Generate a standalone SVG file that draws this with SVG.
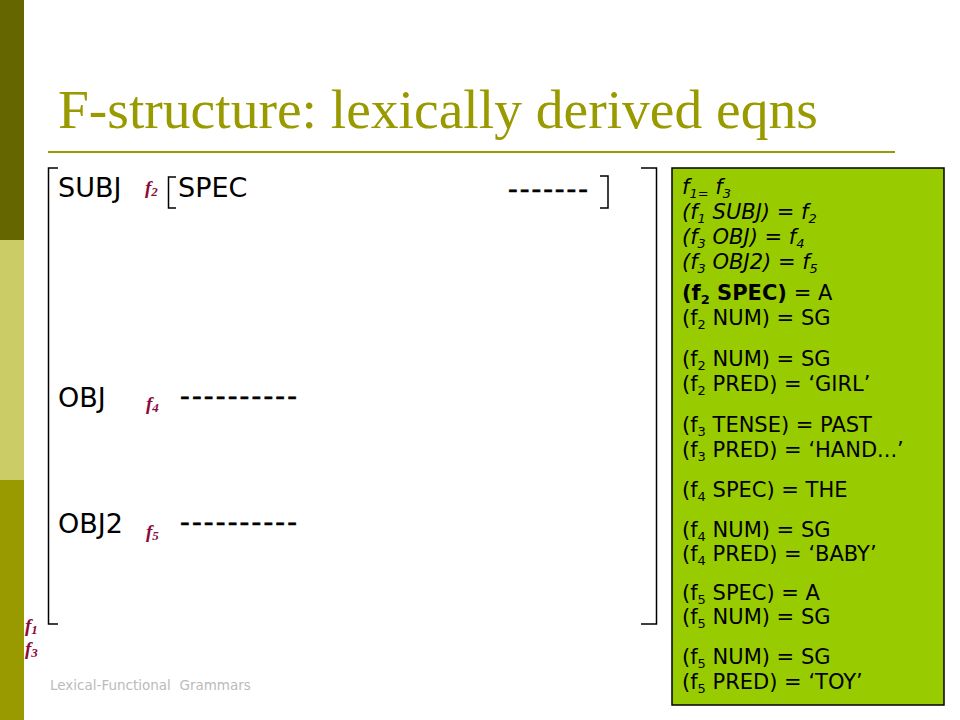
<svg xmlns="http://www.w3.org/2000/svg" width="960" height="720" viewBox="0 0 960 720">
<style>
.title{font-family:"Liberation Serif","Times New Roman",serif;font-size:55.5px;fill:#999900}
.main{font-family:"DejaVu Sans",Verdana,sans-serif;font-size:27px;fill:#000}
.dash{stroke:#000;stroke-width:0.7}
.eq{font-family:"DejaVu Sans",Verdana,sans-serif;font-size:21px;fill:#000}
.it{font-style:italic}
.b{font-weight:bold}
.s{font-size:13px}
.fl{font-family:"Liberation Serif","Times New Roman",serif;font-style:italic;font-weight:bold;font-size:19px;fill:#8B0A3D}
.fs{font-size:13px}
.br{fill:none;stroke:#000;stroke-width:1.5}
.foot{font-family:"DejaVu Sans",Verdana,sans-serif;font-size:13.5px;fill:#BBBBBB;white-space:pre}
</style>
<rect width="960" height="720" fill="#fff"/>
<g id="sidebar">
<rect x="0" y="0" width="24" height="240" fill="#666600"/>
<rect x="0" y="240" width="24" height="240" fill="#CCCC66"/>
<rect x="0" y="480" width="24" height="240" fill="#999900"/>
</g>
<g id="title">
<text class="title" x="58" y="128">F-structure: lexically derived eqns</text>
<line x1="48" y1="152" x2="895" y2="152" stroke="#999900" stroke-width="2"/>
</g>
<g id="fstructure">
<path class="br" d="M58,168 H48.5 V624 H58"/>
<path class="br" d="M641,168 H656.5 V624 H641"/>
<g id="subj">
<text class="main" x="58" y="197">SUBJ</text>
<text class="fl" x="145" y="194">f<tspan class="fs" dy="2">2</tspan></text>
<path class="br" d="M176,177 H168.5 V208 H176"/>
<text class="main" x="178" y="197">SPEC</text>
<text class="main dash" x="508" y="198" textLength="80" lengthAdjust="spacing">-------</text>
<path class="br" d="M600,176 H608 V208 H600"/>
</g>
<g id="obj">
<text class="main" x="58" y="407">OBJ</text>
<text class="fl" x="146" y="410">f<tspan class="fs" dy="2">4</tspan></text>
<text class="main dash" x="180" y="405" textLength="117" lengthAdjust="spacing">----------</text>
</g>
<g id="obj2">
<text class="main" x="58" y="533">OBJ2</text>
<text class="fl" x="146" y="538">f<tspan class="fs" dy="2">5</tspan></text>
<text class="main dash" x="180" y="531" textLength="117" lengthAdjust="spacing">----------</text>
</g>
<g id="f1f3">
<text class="fl" x="25" y="632">f<tspan class="fs" dy="2">1</tspan></text>
<text class="fl" x="25" y="655">f<tspan class="fs" dy="2">3</tspan></text>
</g>
</g>
<g id="equations">
<rect x="672" y="168" width="272" height="537" fill="#99CC00" stroke="#000" stroke-width="1.5"/>
<text class="eq it" x="682" y="194">f<tspan class="s" dy="4">1=</tspan><tspan dy="-4"> f</tspan><tspan class="s" dy="4">3</tspan></text>
<text class="eq it" x="682" y="219">(f<tspan class="s" dy="4">1</tspan><tspan dy="-4"> SUBJ) = f</tspan><tspan class="s" dy="4">2</tspan></text>
<text class="eq it" x="682" y="244">(f<tspan class="s" dy="4">3</tspan><tspan dy="-4"> OBJ) = f</tspan><tspan class="s" dy="4">4</tspan></text>
<text class="eq it" x="682" y="269">(f<tspan class="s" dy="4">3</tspan><tspan dy="-4"> OBJ2) = f</tspan><tspan class="s" dy="4">5</tspan></text>
<text class="eq" x="682" y="300"><tspan class="b">(f</tspan><tspan class="b s" dy="4">2</tspan><tspan class="b" dy="-4"> SPEC)</tspan> = A</text>
<text class="eq" x="682" y="325">(f<tspan class="s" dy="4">2</tspan><tspan dy="-4"> NUM) = SG</tspan></text>
<text class="eq" x="682" y="366">(f<tspan class="s" dy="4">2</tspan><tspan dy="-4"> NUM) = SG</tspan></text>
<text class="eq" x="682" y="391">(f<tspan class="s" dy="4">2</tspan><tspan dy="-4"> PRED) = ‘GIRL’</tspan></text>
<text class="eq" x="682" y="432">(f<tspan class="s" dy="4">3</tspan><tspan dy="-4"> TENSE) = PAST</tspan></text>
<text class="eq" x="682" y="457">(f<tspan class="s" dy="4">3</tspan><tspan dy="-4"> PRED) = ‘HAND...’</tspan></text>
<text class="eq" x="682" y="497">(f<tspan class="s" dy="4">4</tspan><tspan dy="-4"> SPEC) = THE</tspan></text>
<text class="eq" x="682" y="537">(f<tspan class="s" dy="4">4</tspan><tspan dy="-4"> NUM) = SG</tspan></text>
<text class="eq" x="682" y="561">(f<tspan class="s" dy="4">4</tspan><tspan dy="-4"> PRED) = ‘BABY’</tspan></text>
<text class="eq" x="682" y="600">(f<tspan class="s" dy="4">5</tspan><tspan dy="-4"> SPEC) = A</tspan></text>
<text class="eq" x="682" y="624">(f<tspan class="s" dy="4">5</tspan><tspan dy="-4"> NUM) = SG</tspan></text>
<text class="eq" x="682" y="664">(f<tspan class="s" dy="4">5</tspan><tspan dy="-4"> NUM) = SG</tspan></text>
<text class="eq" x="682" y="689">(f<tspan class="s" dy="4">5</tspan><tspan dy="-4"> PRED) = ‘TOY’</tspan></text>
</g>
<g id="footer">
<text class="foot" x="50" y="690">Lexical-Functional  Grammars</text>
</g>
</svg>
